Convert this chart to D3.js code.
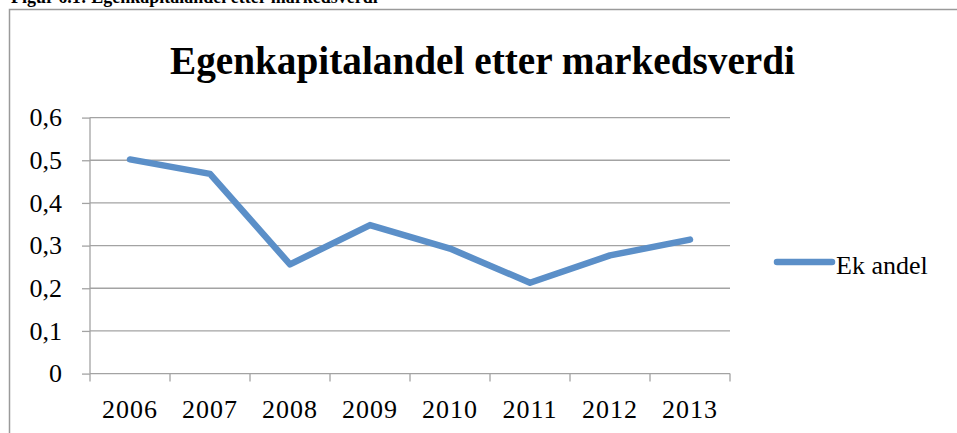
<!DOCTYPE html>
<html>
<head>
<meta charset="utf-8">
<script src="https://cdn.jsdelivr.net/npm/d3@7"></script>
<style>
  body { margin: 0; background: #fff; }
  svg { display: block; }
</style>
</head>
<body>
<div id="chart"></div>
<script>
var years = ['2006', '2007', '2008', '2009', '2010', '2011', '2012', '2013'];
var ekAndel = [0.502, 0.468, 0.256, 0.348, 0.293, 0.213, 0.277, 0.314];
var yTicks = [0, 0.1, 0.2, 0.3, 0.4, 0.5, 0.6];
var seriesName = 'Ek andel';
var chartTitle = 'Egenkapitalandel etter markedsverdi';
var figCaption = 'Figur 6.1: Egenkapitalandel etter markedsverdi';

var W = 957, H = 433;
var plot = { left: 90, right: 730, top: 117.6, bottom: 373.6 };
var lineColor = '#5b8fc8';
var gridColor = '#a3a3a3';
var serif = '"Liberation Serif", "Times New Roman", serif';

var svg = d3.select('#chart').append('svg')
  .attr('width', W)
  .attr('height', H);

// caption above the frame (cut off at the top, like the source page)
svg.append('text')
  .attr('x', 11)
  .attr('y', 3)
  .attr('font-family', serif)
  .attr('font-weight', 'bold')
  .attr('font-size', '18px')
  .attr('fill', '#000')
  .text(figCaption);

// chart frame, runs off the right and bottom edges
svg.append('rect')
  .attr('x', 9.5)
  .attr('y', 9.5)
  .attr('width', 1000)
  .attr('height', 500)
  .attr('fill', '#fff')
  .attr('stroke', '#9a9a9a')
  .attr('stroke-width', 1.5);

svg.append('text')
  .attr('x', 170)
  .attr('y', 74)
  .attr('font-family', serif)
  .attr('font-weight', 'bold')
  .attr('font-size', '40px')
  .attr('textLength', 625)
  .attr('lengthAdjust', 'spacingAndGlyphs')
  .attr('fill', '#000')
  .text(chartTitle);

var x = d3.scaleBand()
  .domain(years)
  .range([plot.left, plot.right]);

var y = d3.scaleLinear()
  .domain([0, 0.6])
  .range([plot.bottom, plot.top]);

// horizontal gridlines
svg.append('g')
  .selectAll('line')
  .data(yTicks.filter(function(d) { return d > 0; }))
  .enter()
  .append('line')
  .attr('x1', plot.left)
  .attr('x2', plot.right)
  .attr('y1', function(d) { return y(d); })
  .attr('y2', function(d) { return y(d); })
  .attr('stroke', gridColor)
  .attr('stroke-width', 1.3);

// y axis
var yAxis = svg.append('g')
  .attr('transform', 'translate(' + plot.left + ',0)')
  .call(d3.axisLeft(y)
    .tickValues(yTicks)
    .tickSize(8)
    .tickPadding(20)
    .tickFormat(function(d) { return d === 0 ? '0' : d3.format('.1f')(d).replace('.', ','); }));

// x axis: ticks sit on the category boundaries
var xAxis = svg.append('g')
  .attr('transform', 'translate(0,' + plot.bottom + ')')
  .call(d3.axisBottom(x).tickSize(0).tickPadding(26));

xAxis.selectAll('.tick-bound')
  .data(years.concat(['end']))
  .enter()
  .append('line')
  .attr('class', 'tick-bound')
  .attr('x1', function(d, i) { return plot.left + i * x.step(); })
  .attr('x2', function(d, i) { return plot.left + i * x.step(); })
  .attr('y1', 0)
  .attr('y2', 8)
  .attr('stroke', gridColor)
  .attr('stroke-width', 1.3);

[yAxis, xAxis].forEach(function(ax) {
  ax.select('.domain').attr('stroke', gridColor).attr('stroke-width', 1.3);
  ax.selectAll('.tick line').attr('stroke', gridColor).attr('stroke-width', 1.3);
  ax.selectAll('.tick text')
    .attr('font-family', serif)
    .attr('font-size', '26px')
    .attr('fill', '#000');
});
xAxis.select('.domain').attr('d', 'M' + plot.left + ',0H' + plot.right);
yAxis.select('.domain').attr('d', 'M0,' + plot.bottom + 'V' + plot.top);
xAxis.selectAll('.tick text')
  .attr('dy', '0.71em')
  .attr('letter-spacing', '1px');

// the series line
var line = d3.line()
  .x(function(d, i) { return x(years[i]) + x.bandwidth() / 2; })
  .y(function(d) { return y(d); });

svg.append('path')
  .datum(ekAndel)
  .attr('d', line)
  .attr('fill', 'none')
  .attr('stroke', lineColor)
  .attr('stroke-width', 6.5)
  .attr('stroke-linecap', 'round')
  .attr('stroke-linejoin', 'round');

// legend
var legend = svg.append('g')
  .attr('transform', 'translate(777,262)');

legend.append('line')
  .attr('x1', 0)
  .attr('x2', 55)
  .attr('y1', 0)
  .attr('y2', 0)
  .attr('stroke', lineColor)
  .attr('stroke-width', 6.5)
  .attr('stroke-linecap', 'round');

legend.append('text')
  .attr('x', 59)
  .attr('y', 12)
  .attr('font-family', serif)
  .attr('font-size', '26px')
  .attr('fill', '#000')
  .text(seriesName);
</script>
</body>
</html>
